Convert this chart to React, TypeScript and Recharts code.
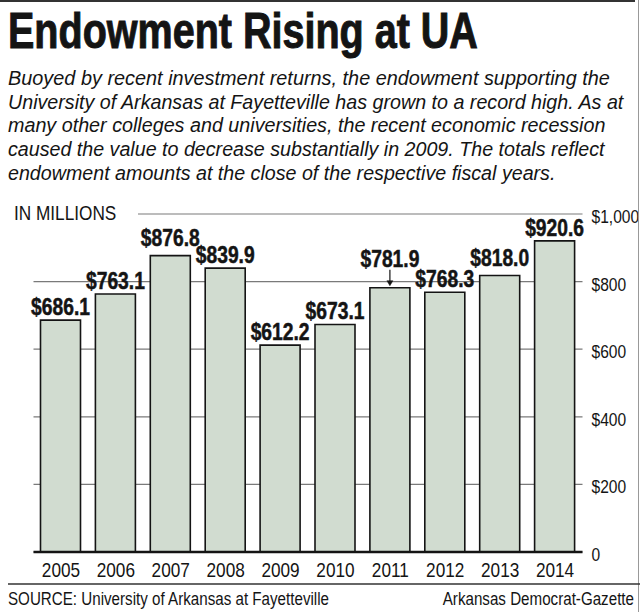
import { BarChart, Bar, XAxis, YAxis, CartesianGrid, LabelList } from 'recharts'

const years = ['2005', '2006', '2007', '2008', '2009', '2010', '2011', '2012', '2013', '2014']
const endowment = [686.1, 763.1, 876.8, 839.9, 612.2, 673.1, 781.9, 768.3, 818.0, 920.6]
const yTicks = [0, 200, 400, 600, 800, 1000]

const title = 'Endowment Rising at UA'
const subtitleLines = [
  'Buoyed by recent investment returns, the endowment supporting the',
  'University of Arkansas at Fayetteville has grown to a record high. As at',
  'many other colleges and universities, the recent economic recession',
  'caused the value to decrease substantially in 2009. The totals reflect',
  'endowment amounts at the close of the respective fiscal years.',
]
const subtitleWidths = [602, 617, 598, 597, 548]
const unitLabel = 'IN MILLIONS'
const sourceNote = 'SOURCE: University of Arkansas at Fayetteville'
const credit = 'Arkansas Democrat-Gazette'

const data = years.map((year, i) => ({ year, value: endowment[i] }))

const SANS = '"Liberation Sans", Arial, Helvetica, sans-serif'
const SQUEEZE = 0.82
const INK = '#141414'
const BAR_FILL = '#d1dcd0'

// a few labels sit a bit higher in the original; 2011 gets a pointer arrow
const LIFT: Record<string, number> = { '2007': 10, '2013': 10, '2011': 21 }

let ctx: CanvasRenderingContext2D | null = null
function textWidth(txt: string, font: string) {
  if (!ctx) ctx = document.createElement('canvas').getContext('2d')
  if (!ctx) return 1
  ctx.font = font
  return ctx.measureText(txt).width || 1
}

function NText({ x, y, anchor = 'start', sx = SQUEEZE, children, ...rest }: any) {
  return (
    <text transform={`translate(${x} ${y}) scale(${sx} 1)`} x={0} y={0}
      textAnchor={anchor} fontFamily={SANS} fill={INK} {...rest}>
      {children}
    </text>
  )
}

// squeeze a line so it spans the given width
function FitText({ x, y, width, font, children, ...rest }: any) {
  const sx = width / textWidth(children, `${font} ${SANS}`)
  return <NText x={x} y={y} sx={sx} {...rest}>{children}</NText>
}

function ValueLabel(props: any) {
  const { x, y, width, value, index } = props
  const year = years[index]
  const lift = LIFT[year] ?? 5
  const cx = x + width / 2
  return (
    <g>
      <NText x={cx} y={y - lift} anchor="middle" fontWeight="bold" fontSize={23.5}
        stroke={INK} strokeWidth={0.5}>
        {`$${Number(value).toFixed(1)}`}
      </NText>
      {year === '2011' && (
        <g stroke={INK} fill={INK}>
          <line x1={cx} y1={y - 18} x2={cx} y2={y - 6} strokeWidth={1.2} />
          <path d={`M${cx - 3},${y - 7} L${cx + 3},${y - 7} L${cx},${y - 2} Z`} strokeWidth={0.5} />
        </g>
      )}
    </g>
  )
}

function YearTick(props: any) {
  const { x, y, payload } = props
  return (
    <NText x={x} y={y + 17} anchor="middle" fontSize={21}>
      {payload.value}
    </NText>
  )
}

function MoneyTick(props: any) {
  const { x, y, payload } = props
  const v = payload.value as number
  const txt = v === 0 ? '0' : `$${v.toLocaleString('en-US')}`
  return (
    <NText x={x} y={y + 9} fontSize={19}>
      {txt}
    </NText>
  )
}

export default function App() {
  return (
    <div style={{ position: 'relative', width: 640, height: 612, background: '#fff', overflow: 'hidden' }}>
      <style>{'body{margin:0}'}</style>
      <div style={{ position: 'absolute', left: 0, top: 0 }}>
        <BarChart width={640} height={612} data={data} barSize={40}
          margin={{ top: 214, right: 7.5, bottom: 30, left: 33.5 }}>
          <CartesianGrid vertical={false} stroke="#7a7a7a" strokeWidth={1.2} />
          <XAxis dataKey="year" height={30} axisLine={{ stroke: INK, strokeWidth: 2.5 }}
            tickLine={false} tick={<YearTick />} interval={0} />
          <YAxis orientation="right" width={50} domain={[0, 1000]} ticks={yTicks}
            axisLine={false} tickLine={false} tickSize={0} tickMargin={9} tick={<MoneyTick />} />
          <Bar dataKey="value" fill={BAR_FILL} stroke={INK} strokeWidth={1.6} isAnimationActive={false}>
            <LabelList dataKey="value" content={<ValueLabel />} />
          </Bar>
        </BarChart>
      </div>
      <svg width={640} height={612} style={{ position: 'absolute', left: 0, top: 0 }}>
        <line x1={0} y1={1} x2={635} y2={1} stroke="#333" strokeWidth={2} />
        <line x1={638.5} y1={0} x2={638.5} y2={612} stroke="#999" strokeWidth={1} />
        <FitText x={8} y={48} width={470} font="bold 50px" fontWeight="bold" fontSize={50}
          stroke={INK} strokeWidth={1}>
          {title}
        </FitText>
        {subtitleLines.map((line, i) => (
          <FitText key={i} x={8} y={85 + i * 23.7} width={subtitleWidths[i]} font="italic 21px"
            fontStyle="italic" fontSize={21}>
            {line}
          </FitText>
        ))}
        <rect x={0} y={203} width={138} height={20} fill="#fff" />
        <NText x={14} y={220} fontSize={21}>{unitLabel}</NText>
        <line x1={8} y1={584} x2={640} y2={584} stroke="#333" strokeWidth={1.5} />
        <NText x={8} y={605} fontSize={18.5}>{sourceNote}</NText>
        <NText x={634} y={605} anchor="end" fontSize={18.5}>{credit}</NText>
      </svg>
    </div>
  )
}
